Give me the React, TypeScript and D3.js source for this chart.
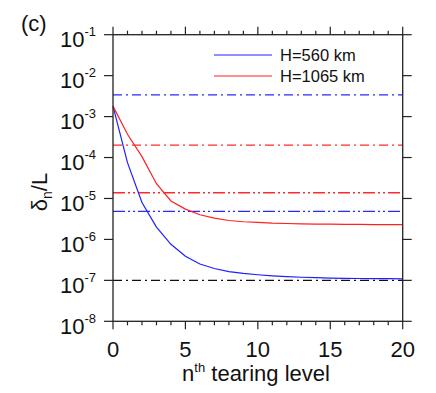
import React from "react";
import * as d3 from "d3";

const levels = d3.range(0, 21);
const blueVals = [1.8e-3, 7.5e-5, 8e-6, 2.0e-6, 7.6e-7, 3.9e-7, 2.5e-7, 1.95e-7, 1.63e-7, 1.48e-7, 1.37e-7, 1.29e-7, 1.23e-7, 1.19e-7, 1.16e-7, 1.14e-7, 1.12e-7, 1.11e-7, 1.1e-7, 1.1e-7, 1.09e-7];
const redVals = [1.8e-3, 3.7e-4, 1.05e-4, 2.3e-5, 8.7e-6, 5.5e-6, 4.0e-6, 3.3e-6, 2.9e-6, 2.7e-6, 2.6e-6, 2.5e-6, 2.45e-6, 2.4e-6, 2.37e-6, 2.35e-6, 2.33e-6, 2.32e-6, 2.31e-6, 2.3e-6, 2.3e-6];
const refValues = [3.4e-3, 2.0e-4, 1.38e-5, 4.85e-6, 1e-7];
const refColors = ["#2a2aff", "#ff2a2a", "#ff2a2a", "#2a2aff", "#111"];
const refKinds = ["dd", "dd", "ddd", "ddd", "dd"];
const legendLabels = ["H=560 km", "H=1065 km"];
const xTicks = [0, 5, 10, 15, 20];
const yExps = [-1, -2, -3, -4, -5, -6, -7, -8];

const W = 436, H = 393;
const m = { left: 113, right: 402.7, top: 34.7, bottom: 321.3 };
const font = "'Liberation Sans', Arial, Helvetica, sans-serif";

const App = () => {
  const x = d3.scaleLinear().domain([0, 20]).range([m.left, m.right]);
  const y = d3.scaleLog().domain([1e-8, 1e-1]).range([m.bottom, m.top]);
  const line = d3.line<number>().x((d, i) => x(levels[i])).y(d => y(d));
  const dash = { dd: "9,4,2,4", ddd: "12,3,2,3,2,3" };
  const minor = d3.range(0, 21);

  return (
    <svg width={W} height={H} style={{ position: "absolute", left: 0, top: 0 }} fontFamily={font}>
      <rect width={W} height={H} fill="white" />
      {refValues.map((v, i) => (
        <line key={i} x1={m.left} x2={m.right} y1={y(v)} y2={y(v)} stroke={refColors[i]}
          strokeWidth={1.3} strokeDasharray={dash[refKinds[i]]} />
      ))}
      <path d={line(blueVals)!} fill="none" stroke="#2020ff" strokeWidth={1.2} />
      <path d={line(redVals)!} fill="none" stroke="#ff2020" strokeWidth={1.2} />

      {/* frame */}
      <rect x={m.left} y={m.top} width={m.right - m.left} height={m.bottom - m.top} fill="none" stroke="#222" strokeWidth={1.3} />
      {minor.map(t => {
        const len = t % 5 === 0 ? 8 : 4;
        return (
          <g key={t} stroke="#222" strokeWidth={1.2}>
            <line x1={x(t)} x2={x(t)} y1={m.bottom} y2={m.bottom + len} />
            <line x1={x(t)} x2={x(t)} y1={m.top} y2={m.top - len} />
          </g>
        );
      })}
      {yExps.map(e => (
        <g key={e} stroke="#222" strokeWidth={1.2}>
          <line x1={m.left - 9} x2={m.left} y1={y(10 ** e)} y2={y(10 ** e)} />
          <line x1={m.right} x2={m.right + 9} y1={y(10 ** e)} y2={y(10 ** e)} />
        </g>
      ))}

      {/* tick labels */}
      {yExps.map(e => (
        <text key={e} x={96} y={y(10 ** e) + 12.5} textAnchor="end" fontSize={22} fill="#111">
          10<tspan fontSize={13} dy={-11}>{e}</tspan>
        </text>
      ))}
      {xTicks.map(t => (
        <text key={t} x={x(t)} y={357} textAnchor="middle" fontSize={22} fill="#111">{t}</text>
      ))}

      {/* axis titles */}
      <text x={256} y={381} textAnchor="middle" fontSize={22} fill="#111">
        n<tspan fontSize={13} dy={-9}>th</tspan><tspan dy={9}> tearing level</tspan>
      </text>
      <text transform="translate(47,192) rotate(-90)" textAnchor="middle" fontSize={22} fill="#111">
        δ<tspan fontSize={14} dy={5}>n</tspan><tspan dy={-5}>/L</tspan>
      </text>
      <text x={21} y={31} fontSize={22} fill="#111">(c)</text>

      {/* legend */}
      {legendLabels.map((l, i) => (
        <g key={l}>
          <line x1={214} x2={272} y1={55 + i * 21} y2={55 + i * 21} stroke={i === 0 ? "#2020ff" : "#ff2020"} strokeWidth={1.2} />
          <text x={280} y={61 + i * 21} fontSize={16.5} fill="#111">{l}</text>
        </g>
      ))}
    </svg>
  );
};

export default App;
